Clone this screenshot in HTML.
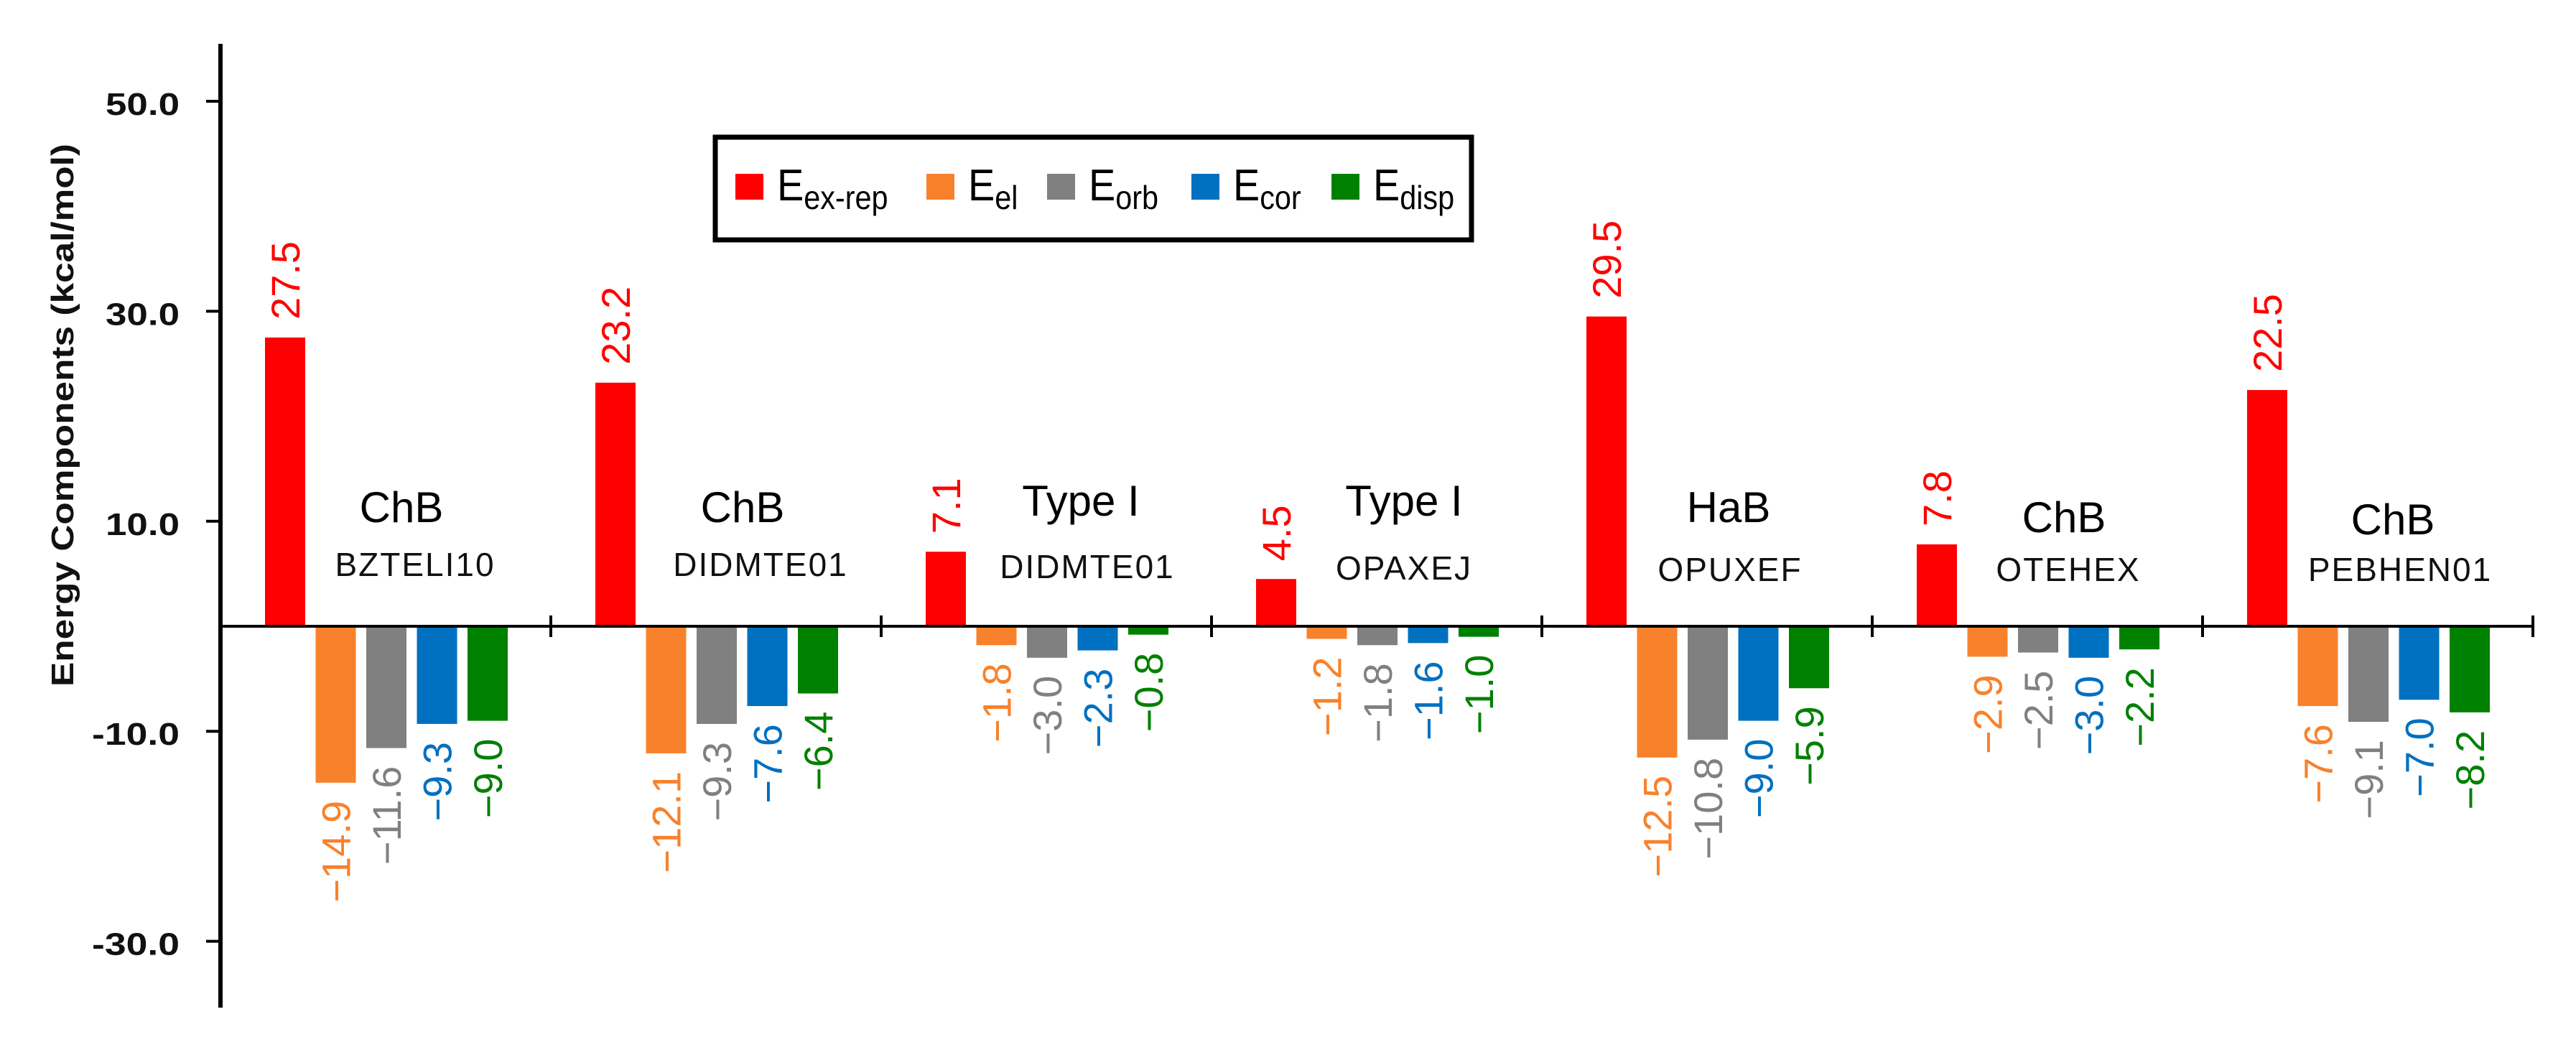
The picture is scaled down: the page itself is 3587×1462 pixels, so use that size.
<!DOCTYPE html>
<html><head><meta charset="utf-8"><style>
html,body{margin:0;padding:0;background:#fff;}
svg{display:block;}
</style></head><body>
<svg id="chart" width="3587" height="1462" viewBox="0 0 3587 1462" xmlns="http://www.w3.org/2000/svg" font-family="'Liberation Sans', sans-serif">
<rect x="0" y="0" width="3587" height="1462" fill="#fff"/>
<g id="bars"></g>
<g id="axes"></g>
<g id="labels"></g>
<g id="legend"></g>
</svg>
<script>
const groupTypes = ["ChB","ChB","Type I","Type I","HaB","ChB","ChB"];
const groupCodes = ["BZTELI10","DIDMTE01","DIDMTE01","OPAXEJ","OPUXEF","OTEHEX","PEBHEN01"];
const eExRep = [27.5, 23.2, 7.1, 4.5, 29.5, 7.8, 22.5];
const eEl    = [-14.9, -12.1, -1.8, -1.2, -12.5, -2.9, -7.6];
const eOrb   = [-11.6, -9.3, -3.0, -1.8, -10.8, -2.5, -9.1];
const eCor   = [-9.3, -7.6, -2.3, -1.6, -9.0, -3.0, -7.0];
const eDisp  = [-9.0, -6.4, -0.8, -1.0, -5.9, -2.2, -8.2];
const yTicks = [50, 30, 10, -10, -30];
const seriesNames = ["ex-rep","el","orb","cor","disp"];

const NS = "http://www.w3.org/2000/svg";
const series = [eExRep, eEl, eOrb, eCor, eDisp];
const colors = ["#FF0000","#F8812C","#808080","#0070C0","#008000"];
const AX = 307, ZERO = 872, PPU = 14.62, GW = 460, BW = 56, PITCH = 70.5, OFF0 = 90;
const yScale = v => ZERO - v * PPU;
const xGroup = g => AX + g * GW;
function mk(tag, attrs, parent, txt){
  const e = document.createElementNS(NS, tag);
  for (const k in attrs) e.setAttribute(k, attrs[k]);
  if (txt !== undefined) e.textContent = txt;
  parent.appendChild(e); return e;
}
const fmt = v => (v < 0 ? "\u2212" : "") + Math.abs(v).toFixed(1);

const bars = document.getElementById("bars");
for (let g = 0; g < groupTypes.length; g++) {
  for (let s = 0; s < series.length; s++) {
    const v = series[s][g];
    const cx = xGroup(g) + OFF0 + s * PITCH;
    const y0 = yScale(Math.max(v, 0)), y1 = yScale(Math.min(v, 0));
    const r = mk("rect", {x: cx - BW/2, y: y0, width: BW, height: Math.max(y1 - y0, 1), fill: colors[s]}, bars);
    
    
    const lx = cx + 20;
    let t;
    if (v >= 0) {
      const ly = y0 - 25;
      t = mk("text", {x: lx, y: ly, transform: `rotate(-90 ${lx} ${ly})`, "font-size": 56, fill: colors[s], "text-anchor": "start"}, bars, fmt(v));
    } else {
      const ly = y1 + 25;
      t = mk("text", {x: lx, y: ly, transform: `rotate(-90 ${lx} ${ly})`, "font-size": 56, fill: colors[s], "text-anchor": "end"}, bars, fmt(v));
    }
    
    
  }
}

const axes = document.getElementById("axes");
mk("line", {x1: AX, y1: 61, x2: AX, y2: 1403, stroke: "#000", "stroke-width": 6}, axes);
mk("line", {x1: AX, y1: ZERO, x2: xGroup(groupTypes.length) + 2, y2: ZERO, stroke: "#000", "stroke-width": 4}, axes);
for (let g = 1; g <= groupTypes.length; g++) {
  const tk = mk("line", {x1: xGroup(g), y1: ZERO - 15, x2: xGroup(g), y2: ZERO + 15, stroke: "#000", "stroke-width": 4}, axes);
  
  
}
for (const v of yTicks) {
  const y = yScale(v);
  const tk = mk("line", {x1: 287, y1: y, x2: AX, y2: y, stroke: "#000", "stroke-width": 4}, axes);
  
  
  const lab = (v < 0 ? "-" : "") + Math.abs(v).toFixed(1);
  const t = mk("text", {x: 250, y: y + 19, "font-size": 44, "font-weight": "bold", "text-anchor": "end", fill: "#111",
    textLength: v < 0 ? 122 : 103, lengthAdjust: "spacingAndGlyphs"}, axes, lab);
  
  
}
const yt = mk("text", {x: 102, y: 578, transform: "rotate(-90 102 578)", "font-size": 44, "font-weight": "bold", "text-anchor": "middle",
  textLength: 756, lengthAdjust: "spacingAndGlyphs", fill: "#111"}, axes, "Energy Components (kcal/mol)");



const labelPos = [[252,727,271,802],[267,727,292,802],[278,718,287,805],[268,718,268,807],[260,727,262,809],[267,741,273,809],[265,744,275,809]];
const labels = document.getElementById("labels");
for (let g = 0; g < groupTypes.length; g++) {
  const p = labelPos[g];
  const a = mk("text", {x: xGroup(g) + p[0], y: p[1], "font-size": 60, "text-anchor": "middle", fill: "#000"}, labels, groupTypes[g]);
  
  
  const b = mk("text", {x: xGroup(g) + p[2], y: p[3], "font-size": 46, "letter-spacing": 2, "text-anchor": "middle", fill: "#111"}, labels, groupCodes[g]);
  
  
}

const legend = document.getElementById("legend");
mk("rect", {x: 996, y: 191, width: 1053, height: 143, fill: "#fff", stroke: "#000", "stroke-width": 7}, legend);
const legX = [1024, 1290, 1458, 1659, 1854];
for (let s = 0; s < 5; s++) {
  const sw = mk("rect", {x: legX[s], y: 242, width: 39, height: 36, fill: colors[s]}, legend);
  
  
  const t = mk("text", {x: legX[s] + 58, y: 279, "font-family": "'Liberation Sans Narrow','Liberation Sans',sans-serif", "font-size": 62, fill: "#000", transform: `translate(${(legX[s]+58)*0.1} 0) scale(0.9 1)`}, legend);
  
  
  mk("tspan", {}, t, "E");
  mk("tspan", {"font-size": 46, dy: 12}, t, seriesNames[s]);
}
</script>
</body></html>
